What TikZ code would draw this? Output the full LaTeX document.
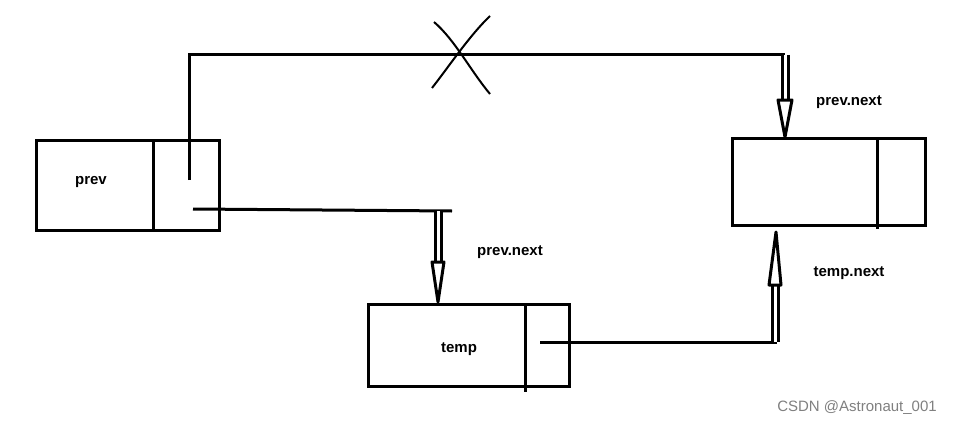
\documentclass[tikz,border=0pt]{standalone}
\usepackage{fontspec}
\setmainfont{Liberation Sans}
\begin{document}
\begin{tikzpicture}[x=1pt,y=-1pt,
  box/.style={draw,line width=3pt,rectangle,inner sep=0pt},
  wire/.style={line width=3pt},
  shaft/.style={draw,double,line width=3pt,double distance=3pt},
  head/.style={draw,line width=3pt,fill=white,line join=round},
  lbl/.style={font=\bfseries\fontsize{15}{17}\selectfont}]
\useasboundingbox[fill=white] (0,0) rectangle (971,428);
\node[box,minimum width=183pt,minimum height=90pt] (prev) at (127.5,185) {};
\node[box,minimum width=201pt,minimum height=82pt] (temp) at (468.5,345) {};
\node[box,minimum width=193pt,minimum height=87pt] (nxt) at (828.5,181.5) {};
\draw[wire] (153,140) -- (153,230);
\draw[wire] (525,304) -- (525,392);
\draw[wire] (877,138) -- (877,229);
\node[lbl] (tprev) at (91,182) {prev};
\node[lbl] (ttemp) at (459,349) {temp};
\node[lbl] (l1) at (510,252) {prev.next};
\node[lbl] (l2) at (849,102) {prev.next};
\node[lbl] (l3) at (849,273) {temp.next};
\node[text=gray,font=\fontsize{15}{17}\selectfont] (wm) at (857,408) {CSDN @Astronaut\_001};
\coordinate (a0) at (189,180);
\coordinate (a1) at (189,55);
\coordinate (a2) at (785,55);
\draw[wire] (a0) -- (a1) -- (a2);
\draw[shaft] (785,55) -- (785,100);
\draw[head] (778,100) -- (792,100) -- (785,137) -- cycle;
\draw[line width=2pt] (434,22) .. controls (455,40) and (470,70) .. (490,94);
\draw[line width=2pt] (490,16) .. controls (470,35) and (450,65) .. (432,88);
\coordinate (b0) at (193,209);
\coordinate (b1) at (452,211);
\draw[wire] (b0) -- (b1);
\draw[shaft] (438,211) -- (438,262);
\draw[head] (432,262) -- (444,262) -- (438,302) -- cycle;
\coordinate (c0) at (540,342);
\coordinate (c1) at (777,342);
\draw[wire] (c0) -- (c1);
\draw[shaft] (775,342) -- (775,285);
\draw[head] (769,285) -- (781,285) -- (776,232) -- cycle;
\end{tikzpicture}
\end{document}
